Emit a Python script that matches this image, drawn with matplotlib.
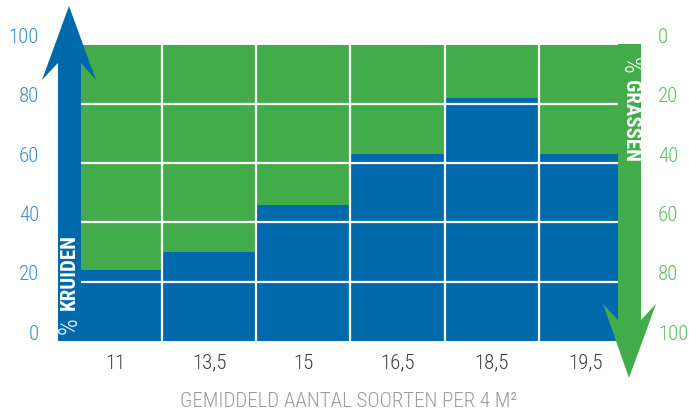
import matplotlib
matplotlib.use("Agg")
import matplotlib.pyplot as plt
from matplotlib.patches import Polygon
from matplotlib.transforms import offset_copy, blended_transform_factory

# share of herbs (kruiden) per plot, grasses fill the rest up to 100 %
soorten = ["11", "13,5", "15", "16,5", "18,5", "19,5"]
kruiden = [24, 30, 46, 63, 82, 63]
grassen = [100 - k for k in kruiden]
ticks = [0, 20, 40, 60, 80, 100]

BLUE = "#0069ac"
GREEN = "#43ac4a"
FONT = ["Liberation Sans Narrow", "Roboto Condensed", "Roboto", "DejaVu Sans"]
plt.rcParams["font.family"] = FONT

W, H = 689, 411
fig = plt.figure(figsize=(W / 100, H / 100), dpi=100)
ax = fig.add_axes([68 / W, 70 / H, 565 / W, 296.3 / H])

x = range(len(soorten))
ax.bar(x, kruiden, width=1.0, color=BLUE, linewidth=0)
ax.bar(x, grassen, width=1.0, bottom=kruiden, color=GREEN, linewidth=0)

# white grid on top of the bars
for v in ticks[1:-1]:
    ax.axhline(v, color="white", lw=1.6, zorder=3)
for i in range(len(soorten) - 1):
    ax.axvline(i + 0.5, color="white", lw=1.6, zorder=3)

ax.set_xlim(-0.5, len(soorten) - 0.5)
ax.set_ylim(0, 100)
for s in ax.spines.values():
    s.set_visible(False)
ax.set_yticks([])
ax.set_xticks(list(x), soorten)
ax.tick_params(axis="x", length=0, pad=9, labelsize=15, labelcolor="#3a3a3a")
for lbl in ax.get_xticklabels():
    lbl.set_fontweight("light")

# left scale: % kruiden, right scale: % grassen (reversed)
ax2 = ax.twinx()
ax2.set_ylim(100, 0)
ax2.axis("off")
left_tr = offset_copy(blended_transform_factory(ax.transAxes, ax.transData),
                      fig=fig, x=-29, y=7, units="dots")
right_tr = offset_copy(blended_transform_factory(ax2.transAxes, ax2.transData),
                       fig=fig, x=25, y=7, units="dots")
for v in ticks:
    ax.text(0, v, str(v), transform=left_tr, ha="right", va="center",
            fontsize=15, color="#3a8dc7", fontweight="light")
    ax2.text(1, v, str(v), transform=right_tr, ha="left", va="center",
             fontsize=15, color="#5dbb61", fontweight="light")


def px(pts):
    return [(a / W, 1 - b / H) for a, b in pts]


# arrows along both sides
up = [(58, 341), (81, 341), (81, 63), (96, 80), (69, 6), (42, 80), (58, 63)]
down = [(618, 44), (641, 44), (641, 320), (656, 304), (629, 378), (603, 304), (618, 320)]
fig.add_artist(Polygon(px(up), closed=True, transform=fig.transFigure,
                       facecolor=BLUE, edgecolor="none"))
fig.add_artist(Polygon(px(down), closed=True, transform=fig.transFigure,
                       facecolor=GREEN, edgecolor="none"))

fig.text(70 / W, 1 - 334 / H, "%", rotation=90, ha="center", va="bottom",
         fontsize=19, color="white", fontweight="light")
fig.text(69.5 / W, 1 - 310 / H, "KRUIDEN", rotation=90, ha="center", va="bottom",
         fontsize=15, color="white", fontweight="bold")
fig.text(629.5 / W, 1 - 57 / H, "%", rotation=-90, ha="center", va="top",
         fontsize=19, color="white", fontweight="light")
fig.text(630 / W, 1 - 80 / H, "GRASSEN", rotation=-90, ha="center", va="top",
         fontsize=15, color="white", fontweight="bold")

fig.text(349 / W, 1 - 401 / H, "GEMIDDELD AANTAL SOORTEN PER 4 M²",
         ha="center", va="center", fontsize=15, color="#9a9a9a",
         fontweight="light")

fig.savefig("out.png", dpi=100)
